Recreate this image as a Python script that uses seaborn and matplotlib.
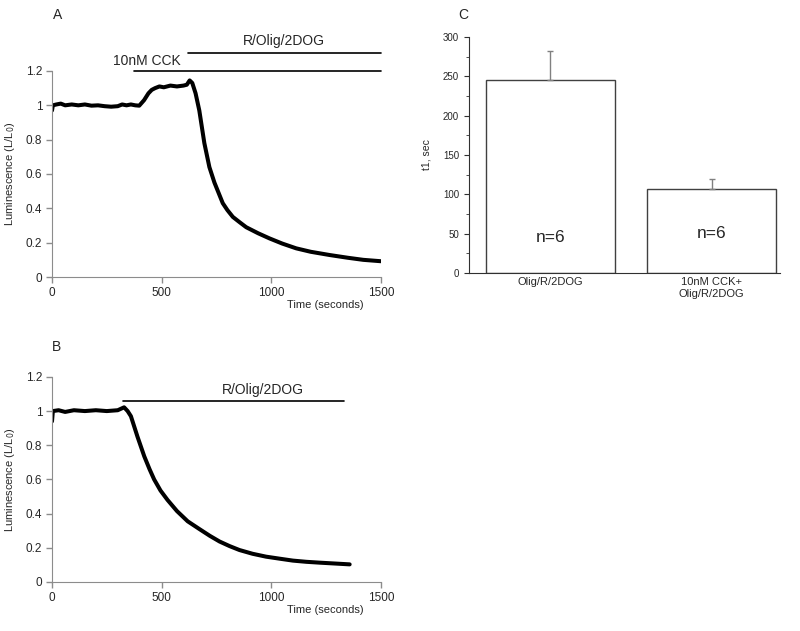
import numpy as np
import pandas as pd
import seaborn as sns
import matplotlib
matplotlib.use('Agg')
from matplotlib import pyplot as plt
from matplotlib.ticker import MultipleLocator, FormatStrFormatter

# Panel A: CCK pre-treatment, then R/Olig/2DOG
time_A = [0, 4, 20, 40, 60, 90, 120, 150, 180, 210, 240, 270, 300, 320, 340, 360, 380, 398,
          420, 440, 455, 470, 490, 510, 540, 570, 600, 615, 628, 640, 655, 672, 695,
          718, 741, 760, 779, 800, 825, 855, 886, 940, 992, 1050, 1114, 1180,
          1267, 1350, 1420, 1500]
lum_A = [0.97, 1.00, 1.005, 1.01, 1.0, 1.005, 1.0, 1.005, 0.998, 1.0, 0.995, 0.992, 0.995,
         1.005, 1.0, 1.005, 1.0, 0.998, 1.03, 1.07, 1.09, 1.10, 1.11, 1.105, 1.115, 1.11,
         1.115, 1.12, 1.145, 1.13, 1.07, 0.97, 0.78, 0.64, 0.55, 0.49, 0.43, 0.39, 0.35,
         0.32, 0.29, 0.255, 0.225, 0.195, 0.167, 0.147, 0.128, 0.112, 0.10, 0.092]

# Panel B: R/Olig/2DOG only
time_B = [0, 4, 30, 60, 100, 150, 200, 250, 300, 329, 345, 360, 390, 421, 445, 466, 495,
          527, 570, 619, 672, 720, 764, 810, 855, 915, 977, 1040, 1099, 1160, 1221,
          1290, 1358]
lum_B = [0.94, 1.0, 1.005, 0.995, 1.005, 1.0, 1.005, 1.0, 1.005, 1.022, 1.0, 0.97, 0.85,
         0.735, 0.66, 0.60, 0.535, 0.48, 0.415, 0.355, 0.31, 0.27, 0.237, 0.21, 0.187,
         0.165, 0.148, 0.136, 0.125, 0.118, 0.113, 0.108, 0.103]

# treatment bars (start, end, level) and label centre
cck_A = (375, 1500, 1.2)
drug_A = (622, 1500, 1.305)
drug_B = (325, 1331, 1.061)

# Panel C: t1
groups = ['Olig/R/2DOG', '10nM CCK+\nOlig/R/2DOG']
t1 = [245, 107]
t1_err = [37, 12]
n_labels = ['n=6', 'n=6']

sns.set_style('ticks')
plt.rcParams['font.family'] = ['Liberation Sans', 'DejaVu Sans']

fig = plt.figure(figsize=(8, 6.31), dpi=100)
axA = fig.add_axes([0.065, 0.561, 0.411, 0.3265])
axB = fig.add_axes([0.065, 0.0777, 0.411, 0.325])
axC = fig.add_axes([0.586, 0.5674, 0.389, 0.374])

grey = '#8c8c8c'


def trace_panel(ax, t, y):
    df = pd.DataFrame({'t': t, 'L': y})
    sns.lineplot(data=df, x='t', y='L', ax=ax, color='black', linewidth=2.9,
                 estimator=None)
    ax.set_xlim(0, 1500)
    ax.set_ylim(0, 1.2)
    ax.set_xticks([0, 500, 1000, 1500])
    ax.set_yticks(np.arange(0, 1.21, 0.2))
    ax.yaxis.set_major_formatter(FormatStrFormatter('%g'))
    ax.tick_params(labelsize=8.5, color=grey, length=4, width=1, direction='out',
                   pad=3)
    for s in ['left', 'bottom']:
        ax.spines[s].set_color(grey)
    sns.despine(ax=ax)
    ax.set_xlabel('Time (seconds)', fontsize=8)
    ax.xaxis.set_label_coords(0.83, -0.11)
    ax.set_ylabel('Luminescence (L/L$_0$)', fontsize=8, labelpad=6)


trace_panel(axA, time_A, lum_A)
trace_panel(axB, time_B, lum_B)

for ax, (x0, x1, lev), txt, tx, dy in [(axA, cck_A, '10nM CCK', 434, 0.015),
                                       (axA, drug_A, 'R/Olig/2DOG', 1056, 0.03),
                                       (axB, drug_B, 'R/Olig/2DOG', 960, 0.02)]:
    ax.plot([x0, x1], [lev, lev], color='black', linewidth=1.2, clip_on=False)
    ax.text(tx, lev + dy, txt, fontsize=10, ha='center', va='bottom',
            clip_on=False)

fig.text(0.066, 0.976, 'A', fontsize=10, va='center')
fig.text(0.065, 0.45, 'B', fontsize=10, va='center')
fig.text(0.573, 0.976, 'C', fontsize=10, va='center')

# Panel C bars
dfC = pd.DataFrame({'group': groups, 't1': t1})
sns.barplot(data=dfC, x='group', y='t1', ax=axC, color='white', edgecolor='#404040',
            linewidth=1, width=0.8, errorbar=None)
axC.errorbar(range(len(groups)), t1, yerr=[[0] * len(t1_err), t1_err], fmt='none',
             ecolor='#808080', elinewidth=1, capsize=2.5, capthick=1)
for i, lab in enumerate(n_labels):
    axC.text(i, 45 if i == 0 else 50, lab, fontsize=12.5, ha='center', va='center')
axC.set_xlim(-0.506, 1.425)
axC.set_ylim(0, 300)
axC.yaxis.set_major_locator(MultipleLocator(50))
axC.yaxis.set_minor_locator(MultipleLocator(25))
axC.tick_params(axis='y', which='major', labelsize=7, length=3.5, color='#303030')
axC.tick_params(axis='y', which='minor', length=2, color='#303030')
axC.tick_params(axis='x', labelsize=8, length=0, pad=3)
for s in ['left', 'bottom']:
    axC.spines[s].set_color('#303030')
sns.despine(ax=axC)
axC.set_xlabel('')
axC.set_ylabel('t1, sec', fontsize=7.5, labelpad=8)

fig.savefig('out.png', dpi=100, facecolor='white')
